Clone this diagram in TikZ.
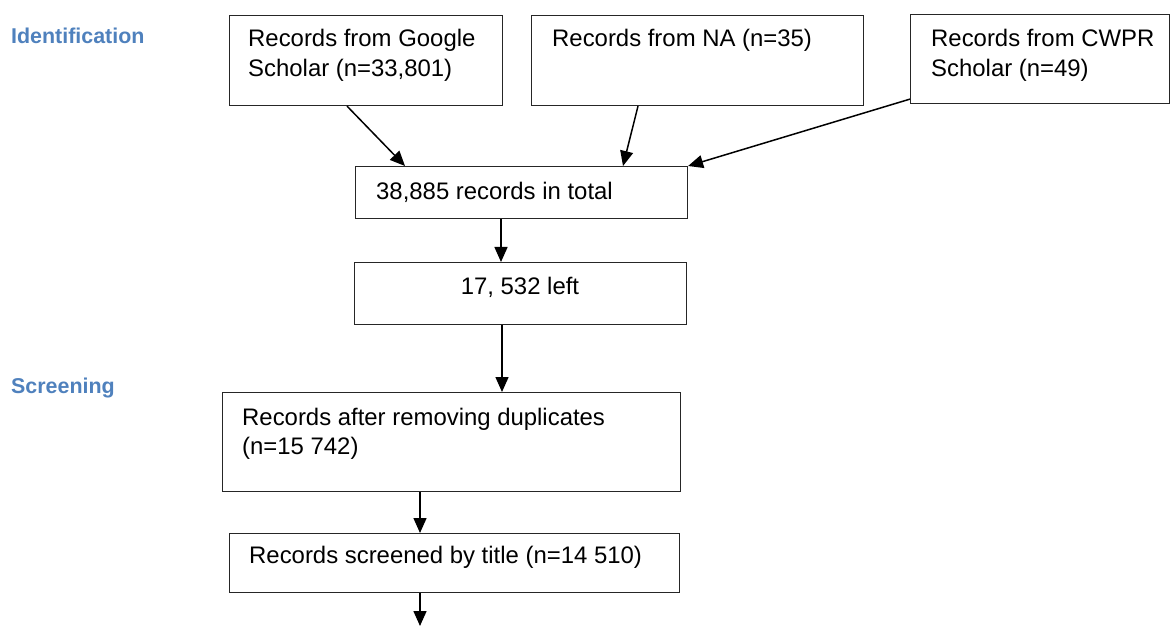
\documentclass[tikz,border=0pt]{standalone}
\usepackage{fontspec}
\setmainfont{Liberation Sans}
\usetikzlibrary{arrows.meta,calc}
\definecolor{stagecol}{RGB}{79,129,189}
\begin{document}
\begin{tikzpicture}[x=1bp,y=-1bp,
  box/.style={draw=black!85, line width=1.1bp, rectangle, inner sep=0pt, anchor=north west},
  txt/.style={inner sep=0pt, anchor=base west, font=\fontsize{24}{29.5}\selectfont},
  stage/.style={inner sep=0pt, anchor=base west, font=\fontsize{21.5}{26}\selectfont\bfseries, text=stagecol},
  arr/.style={-{Triangle[length=15bp,width=13bp]}, line width=1.5bp, black}]
\useasboundingbox (0,0) rectangle (1170,626);

% stage labels
\node[stage] (idlbl) at (11,44) {Identification};
\node[stage] (scrlbl) at (11,393) {Screening};

% boxes
\node[box, minimum width=273bp, minimum height=90bp] (gs) at (229,15) {};
\node[box, minimum width=332bp, minimum height=90bp] (na) at (531,15) {};
\node[box, minimum width=259bp, minimum height=89bp] (cw) at (910,14) {};
\node[box, minimum width=332bp, minimum height=52bp] (tot) at (355,166) {};
\node[box, minimum width=332bp, minimum height=62bp] (left) at (354,262) {};
\node[box, minimum width=458bp, minimum height=99bp] (dup) at (222,392) {};
\node[box, minimum width=450bp, minimum height=59bp] (ttl) at (229,533) {};

% box texts
\node[txt] (gstxt) at (248,47) {\parbox[t]{300bp}{Records from Google\\Scholar (n=33,801)}};
\node[txt] (natxt) at (552,47) {Records from NA (n=35)};
\node[txt] (cwtxt) at (931,47) {\parbox[t]{300bp}{Records from CWPR\\Scholar (n=49)}};
\node[txt] (tottxt) at (376,200) {38,885 records in total};
\node[txt, anchor=base] (lefttxt) at (520,295) {17, 532 left};
\node[txt] (duptxt) at (242,425) {\parbox[t]{420bp}{Records after removing duplicates\\(n=15 742)}};
\node[txt] (ttltxt) at (249,563) {Records screened by title (n=14 510)};

% connectors
\draw[arr] ([xshift=118bp]gs.south west) -- ([xshift=50bp]tot.north west);
\draw[arr] ([xshift=107bp]na.south west) -- ([xshift=268bp]tot.north west);
\draw[arr] ([yshift=5bp]cw.south west) -- (tot.north east);

\coordinate (t1) at ([xshift=146bp]tot.south west);
\draw[arr] (t1) -- (t1 |- left.north);
\coordinate (l1) at ([xshift=148bp]left.south west);
\draw[arr] (l1) -- (l1 |- dup.north);
\coordinate (d1) at ([xshift=198bp]dup.south west);
\draw[arr] (d1) -- (d1 |- ttl.north);
\coordinate (next) at (420,626);
\draw[arr] (next |- ttl.south) -- (next);
\end{tikzpicture}
\end{document}
